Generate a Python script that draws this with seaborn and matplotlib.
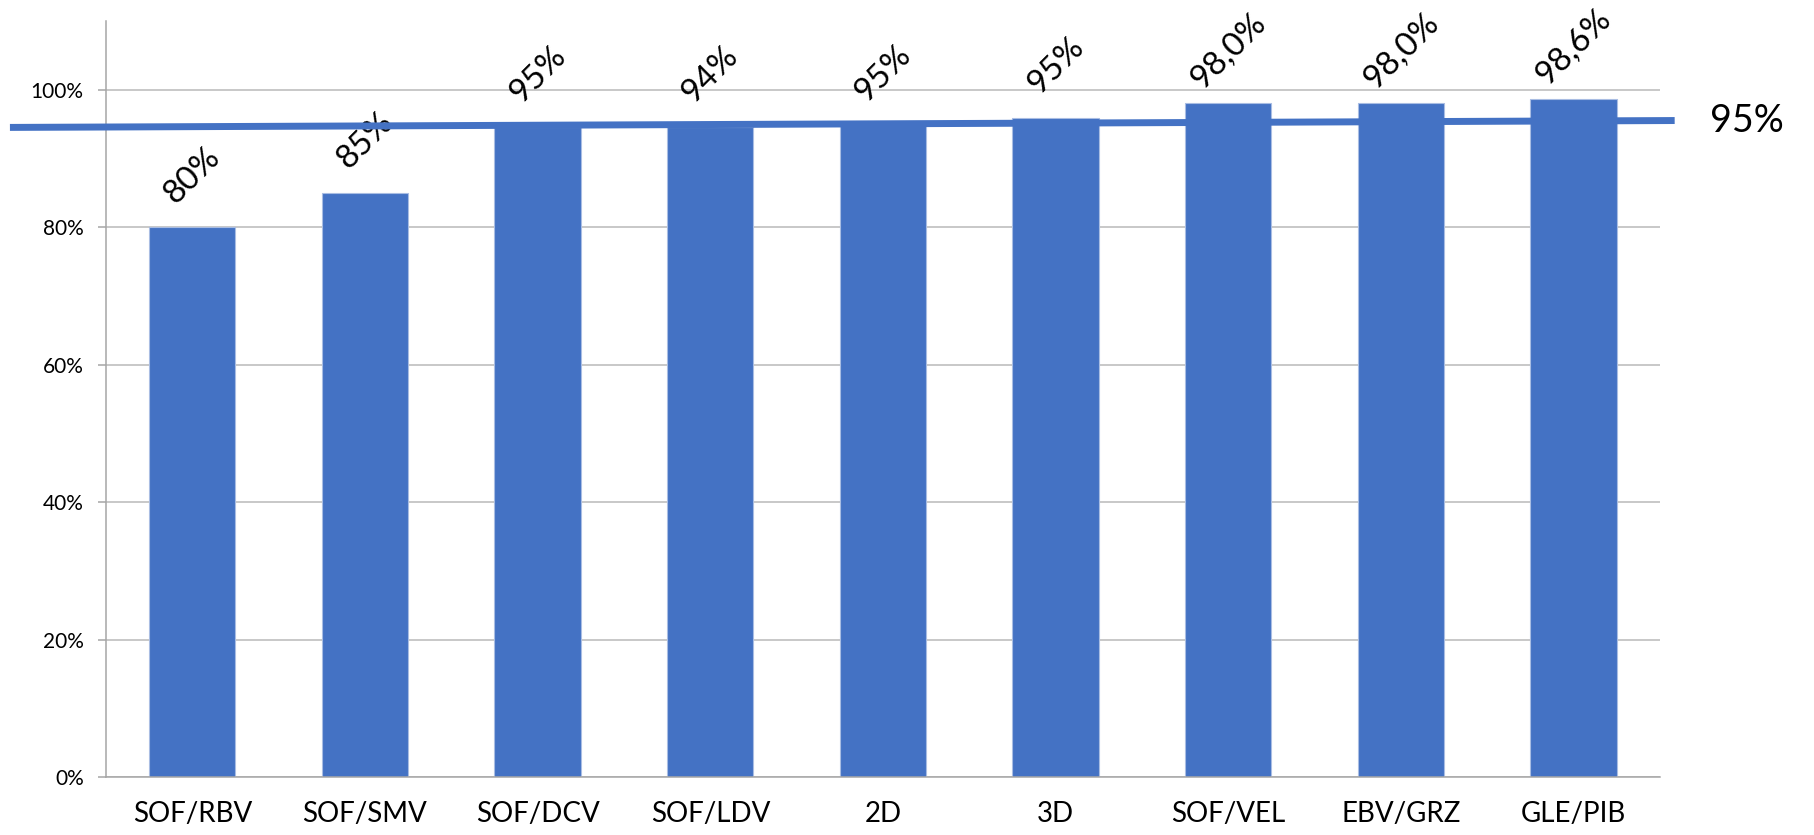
import matplotlib
matplotlib.use("Agg")
import matplotlib.pyplot as plt
import seaborn as sns
import pandas as pd
import numpy as np

# ---- data ----
categories = ["SOF/RBV", "SOF/SMV", "SOF/DCV", "SOF/LDV", "2D", "3D", "SOF/VEL", "EBV/GRZ", "GLE/PIB"]
values = [80.0, 85.0, 94.6, 94.6, 94.8, 95.9, 98.0, 98.0, 98.6]
value_labels = ["80%", "85%", "95%", "94%", "95%", "95%", "98,0%", "98,0%", "98,6%"]
yticks = [0, 20, 40, 60, 80, 100]
ytick_labels = ["0%", "20%", "40%", "60%", "80%", "100%"]
target_x = [-1.056, 8.585]
target_y = [94.5, 95.5]
target_label = "95%"

BLUE = "#4472C4"
GRID = "#BFBFBF"

sns.set_theme(style="white")
plt.rcParams["font.family"] = ["Lato", "DejaVu Sans"]

fig = plt.figure(figsize=(18.14, 8.35), dpi=100)
ax = fig.add_axes([0.0584, 0.0689, 0.8567, 0.9062])

df = pd.DataFrame({"cat": categories, "val": values})
sns.barplot(data=df, x="cat", y="val", order=categories, color=BLUE,
            saturation=1, width=0.5, ax=ax, zorder=2, edgecolor="#A9BDE3", linewidth=0.8)

ax.set_ylim(0, 110)
ax.set_xlim(-0.5, len(categories) - 0.5)
ax.set_yticks(yticks)
ax.set_yticklabels(ytick_labels)
ax.yaxis.grid(True, color=GRID, linewidth=1.2, zorder=0)
ax.set_axisbelow(True)
ax.set_xlabel("")
ax.set_ylabel("")

for s in ["top", "right"]:
    ax.spines[s].set_visible(False)
for s in ["left", "bottom"]:
    ax.spines[s].set_color("#A6A6A6")
    ax.spines[s].set_linewidth(1.1)

ax.tick_params(axis="x", which="major", length=0, pad=17, labelsize=20, labelcolor="black")
ax.set_xticks(np.arange(-0.5, len(categories), 1.0), minor=True)
ax.tick_params(axis="x", which="minor", length=7, width=1.1, color="#A6A6A6", direction="out")
ax.tick_params(axis="y", which="major", length=6, width=1.1, color="#A6A6A6", direction="out",
               pad=10, labelsize=15, labelcolor="black", left=True)

for i, (v, t) in enumerate(zip(values, value_labels)):
    ax.annotate(t, xy=(i, v), xytext=(0, 52), textcoords="offset pixels",
                rotation=45, ha="center", va="center", fontsize=24, color="black",
                rotation_mode="anchor")

ax.plot(target_x, target_y, color=BLUE, linewidth=5, solid_capstyle="butt",
        clip_on=False, zorder=5)
ax.annotate(target_label, xy=(target_x[1], target_y[1]), xytext=(35, 0),
            textcoords="offset pixels", ha="left", va="center", fontsize=27,
            color="black", annotation_clip=False)

fig.savefig("out.png", dpi=100)
